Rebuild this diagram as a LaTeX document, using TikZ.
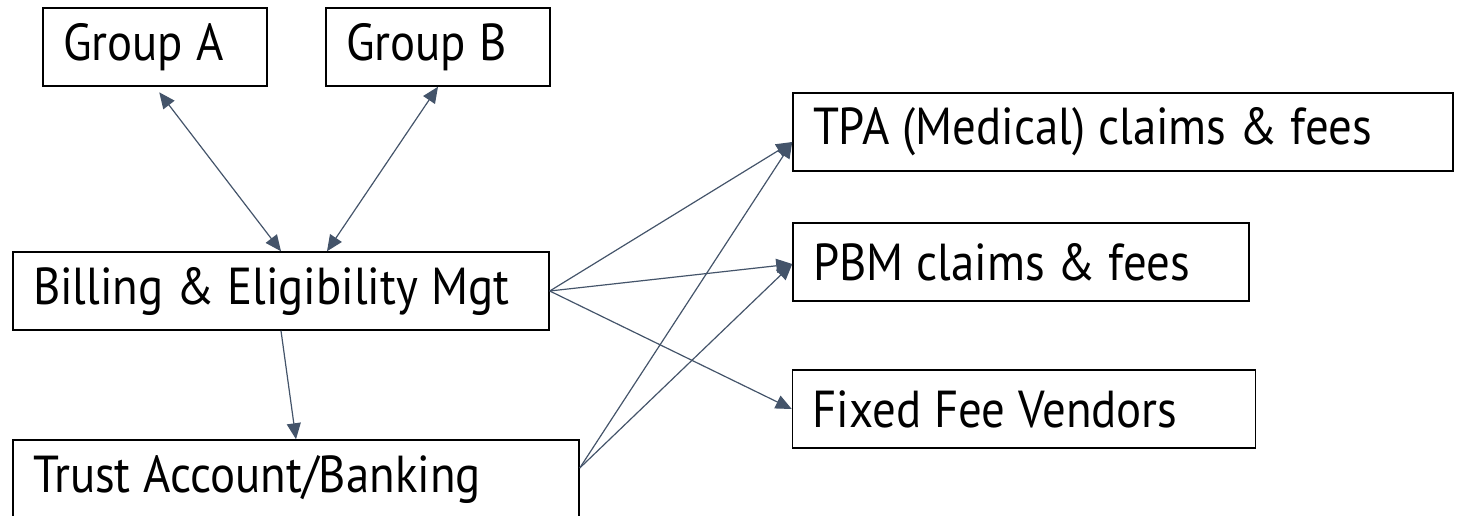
\documentclass[tikz,border=0pt]{standalone}
\usepackage{fontspec}
\setmainfont{PT Sans}[FakeStretch=0.9]
\usetikzlibrary{arrows.meta}
\definecolor{linkcol}{HTML}{44546A}
\newcommand\boxfont{\fontsize{52}{58}\selectfont}
\begin{document}
\begin{tikzpicture}[x=1pt,y=-1pt,
  box/.style={draw,line width=1.5pt,minimum height=78pt,inner xsep=20pt,inner ysep=0pt,align=left,
    font=\boxfont,execute at begin node={\spaceskip=0.25em plus 0.04em\relax}},
  link/.style={draw=linkcol,line width=1.2pt,-{Triangle[length=16pt,width=14pt]}},
  dlink/.style={link,{Triangle[length=16pt,width=14pt]}-{Triangle[length=16pt,width=14pt]}}]
\useasboundingbox (0,0) rectangle (1465,515);
% left column
\node[box,text width=184pt] (grpA) at (155,47) {Group A};
\node[box,text width=184pt] (grpB) at (438,47) {Group B};
\node[box,text width=496pt] (billing) at (281,291) {Billing \& Eligibility Mgt};
\node[box,text width=526pt] (trust) at (296,479) {Trust Account/Banking};
% right column
\node[box,text width=620pt] (tpa) at (1123,132) {TPA (Medical) claims \& fees};
\node[box,text width=416pt] (pbm) at (1021,262) {PBM claims \& fees};
\node[box,text width=423pt] (fixed) at (1024,409) {Fixed Fee Vendors};
\draw[dlink,shorten <=7pt] (grpA.south) -- (billing.north);
\draw[dlink] (grpB.south) -- ([xshift=46pt]billing.north);
\draw[link] (billing.south) -- (trust.north);
\draw[link] (billing.east) -- ([yshift=-10pt]tpa.west);
\draw[link] (billing.east) -- ([yshift=-2pt]pbm.west);
\draw[link] (billing.east) -- (fixed.west);
\draw[link] ([yshift=11pt]trust.east) -- ([yshift=-10pt]tpa.west);
\draw[link] ([yshift=11pt]trust.east) -- ([yshift=-2pt]pbm.west);
\end{tikzpicture}
\end{document}
